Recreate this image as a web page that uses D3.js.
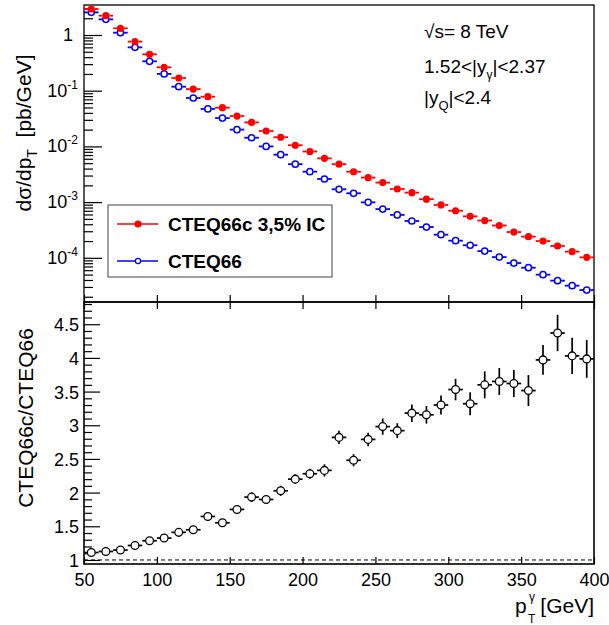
<!DOCTYPE html>
<html>
<head>
<meta charset="utf-8">
<script src="https://cdn.jsdelivr.net/npm/d3@7"></script>
<style>
body { margin: 0; background: #fff; }
text { font-family: "Liberation Sans", Arial, Helvetica, sans-serif; fill: #000; }
</style>
</head>
<body>
<svg id="chart" width="609" height="625"></svg>
<script>
// bin centres in pT (GeV), bins are 10 GeV wide
var ptBins   = [55, 65, 75, 85, 95, 105, 115, 125, 135, 145, 155, 165, 175, 185, 195, 205, 215, 225,
                235, 245, 255, 265, 275, 285, 295, 305, 315, 325, 335, 345, 355, 365, 375, 385, 395];
// CTEQ66c 3,5% IC  (pb/GeV)
var xsecIC   = [2.93, 2.22, 1.32, 0.76, 0.45, 0.263, 0.169, 0.107, 0.078, 0.0495, 0.0351, 0.027,
                0.0189, 0.0146, 0.0105, 0.0081, 0.0061, 0.0048, 0.00351, 0.00275, 0.00224, 0.00172,
                0.00148, 0.00113, 0.00089, 0.00070, 0.000556, 0.000467, 0.00038, 0.00029, 0.00024,
                0.00020, 0.000163, 0.000129, 0.000102];
// CTEQ66  (pb/GeV)
var xsecStd  = [2.55, 1.91, 1.10, 0.60, 0.337, 0.20, 0.118, 0.074, 0.047, 0.0323, 0.020, 0.0143,
                0.0100, 0.0071, 0.0048, 0.00352, 0.0026, 0.0017, 0.00144, 0.00099, 0.00075, 0.00059,
                0.000458, 0.000357, 0.00026, 0.000203, 0.000168, 0.000132, 0.000103, 0.0000806,
                0.0000664, 0.0000498, 0.0000389, 0.0000316, 0.0000264];
// ratio CTEQ66c/CTEQ66 and its error
var ratio    = [1.11, 1.126, 1.147, 1.215, 1.285, 1.325, 1.41, 1.448, 1.646, 1.552, 1.75, 1.933,
                1.898, 2.027, 2.20, 2.28, 2.33, 2.82, 2.48, 2.79, 2.98, 2.92, 3.18, 3.155, 3.30,
                3.53, 3.32, 3.60, 3.65, 3.62, 3.515, 3.97, 4.37, 4.03, 3.985];
var ratioErr = [0.01, 0.01, 0.015, 0.015, 0.02, 0.02, 0.025, 0.03, 0.035, 0.04, 0.06, 0.07,
                0.06, 0.075, 0.07, 0.075, 0.09, 0.10, 0.09, 0.10, 0.12, 0.11, 0.13, 0.13, 0.14,
                0.16, 0.17, 0.20, 0.20, 0.20, 0.23, 0.22, 0.27, 0.27, 0.28];
var binHalf  = 5;

var xTicks     = [50, 100, 150, 200, 250, 300, 350, 400];
var logTicks   = [1e-4, 1e-3, 1e-2, 1e-1, 1];
var ratioTicks = [1, 1.5, 2, 2.5, 3, 3.5, 4, 4.5];

var left = 84, right = 594, top1 = 5, bot1 = 302, bot2 = 564;

var svg = d3.select("#chart");

var x = d3.scaleLinear().domain([50, 400]).range([left, right]);
var yTop = d3.scaleLog().domain([1.61e-5, 3.456]).range([bot1, top1]);
var yBot = d3.scaleLinear().domain([0.94, 4.83]).range([bot2, bot1]);

// minor log ticks 2..9 of each decade inside range
var logMinor = [];
[1e-5, 1e-4, 1e-3, 1e-2, 1e-1, 1].forEach(function (d) {
	for (var k = 2; k <= 9; k++) {
		var v = d * k;
		if (v > yTop.domain()[0] && v < yTop.domain()[1]) logMinor.push(v);
	}
});
var ratioMinor = [];
for (var i = 10; i <= 48; i++) {
	if (i % 5 !== 0) ratioMinor.push(i / 10);
}

function stripDomain(g) { g.select(".domain").remove(); g.selectAll(".tick line").attr("stroke", "#000").attr("stroke-width", 1.2); }

// ---- top panel axes (ticks pointing inward like ROOT)
svg.append("g").attr("transform", "translate(" + left + ",0)")
	.call(d3.axisLeft(yTop).tickValues(logMinor).tickSize(-9).tickFormat(""))
	.call(stripDomain);
svg.append("g").attr("transform", "translate(" + left + ",0)")
	.call(d3.axisLeft(yTop).tickValues(logTicks).tickSize(-18).tickFormat(""))
	.call(stripDomain);
svg.append("g").attr("transform", "translate(0," + bot1 + ")")
	.call(d3.axisBottom(x).tickValues(xTicks).tickSize(-7).tickFormat(""))
	.call(stripDomain);

// log labels with superscripts
var logLab = svg.append("g").attr("font-size", 18);
logTicks.forEach(function (t) {
	var e = Math.round(Math.log10(t));
	var txt = logLab.append("text")
		.attr("x", e === 0 ? 73 : 78)
		.attr("y", yTop(t) + 6)
		.attr("text-anchor", "end");
	if (e === 0) {
		txt.text("1");
	} else {
		txt.append("tspan").text("10");
		txt.append("tspan").attr("font-size", 12).attr("dy", -8).text("-" + (-e));
	}
});

// ---- bottom panel axes
svg.append("g").attr("transform", "translate(" + left + ",0)")
	.call(d3.axisLeft(yBot).tickValues(ratioMinor).tickSize(-8).tickFormat(""))
	.call(stripDomain);
svg.append("g").attr("transform", "translate(" + left + ",0)")
	.call(d3.axisLeft(yBot).tickValues(ratioTicks).tickSize(-16).tickPadding(5).tickFormat(d3.format("")))
	.call(stripDomain)
	.call(function (g) { g.selectAll("text").attr("font-size", 18).attr("font-family", null).attr("dy", "0.36em"); });
svg.append("g").attr("transform", "translate(0," + bot1 + ")")
	.call(d3.axisTop(x).tickValues(xTicks).tickSize(-7).tickFormat(""))
	.call(stripDomain);
svg.append("g").attr("transform", "translate(0," + bot2 + ")")
	.call(d3.axisBottom(x).tickValues(xTicks).tickSize(-7).tickPadding(9).tickFormat(d3.format("")))
	.call(stripDomain)
	.call(function (g) { g.selectAll("text").attr("font-size", 18).attr("font-family", null).attr("dy", "0.71em"); });

// frames
svg.append("rect").attr("x", left).attr("y", top1).attr("width", right - left).attr("height", bot1 - top1)
	.attr("fill", "none").attr("stroke", "#000").attr("stroke-width", 1.3);
svg.append("rect").attr("x", left).attr("y", bot1).attr("width", right - left).attr("height", bot2 - bot1)
	.attr("fill", "none").attr("stroke", "#000").attr("stroke-width", 1.6);

// dashed line at ratio 1
svg.append("line").attr("x1", left).attr("x2", right).attr("y1", yBot(1)).attr("y2", yBot(1))
	.attr("stroke", "#000").attr("stroke-width", 1).attr("stroke-dasharray", "4,3");

// ---- top panel data
var r = 3.6;
function drawSeries(vals, color, filled) {
	var g = svg.append("g");
	var pts = g.selectAll("g").data(ptBins).enter().append("g");
	pts.append("line")
		.attr("x1", function (d) { return x(d - binHalf); })
		.attr("x2", function (d) { return x(d) - r; })
		.attr("y1", function (d, i) { return yTop(vals[i]); })
		.attr("y2", function (d, i) { return yTop(vals[i]); })
		.attr("stroke", color).attr("stroke-width", 1.8);
	pts.append("line")
		.attr("x1", function (d) { return x(d) + r; })
		.attr("x2", function (d) { return x(d + binHalf); })
		.attr("y1", function (d, i) { return yTop(vals[i]); })
		.attr("y2", function (d, i) { return yTop(vals[i]); })
		.attr("stroke", color).attr("stroke-width", 1.8);
	pts.append("circle")
		.attr("cx", function (d) { return x(d); })
		.attr("cy", function (d, i) { return yTop(vals[i]); })
		.attr("r", filled ? r : r - 0.5)
		.attr("fill", filled ? color : "#fff")
		.attr("stroke", color).attr("stroke-width", filled ? 0 : 1.5);
}
drawSeries(xsecStd, "#0000ff", false);
drawSeries(xsecIC, "#ff0000", true);

// ---- ratio data
var rr = 3.9;
var rg = svg.append("g");
var rp = rg.selectAll("g").data(ptBins).enter().append("g");
rp.each(function (d, i) {
	var g = d3.select(this);
	var cx = x(d), cy = yBot(ratio[i]);
	var up = yBot(ratio[i] + ratioErr[i]), dn = yBot(ratio[i] - ratioErr[i]);
	g.append("line").attr("x1", x(d - binHalf)).attr("x2", cx - rr).attr("y1", cy).attr("y2", cy);
	g.append("line").attr("x1", cx + rr).attr("x2", x(d + binHalf)).attr("y1", cy).attr("y2", cy);
	if (cy - up > rr) g.append("line").attr("x1", cx).attr("x2", cx).attr("y1", up).attr("y2", cy - rr);
	if (dn - cy > rr) g.append("line").attr("x1", cx).attr("x2", cx).attr("y1", cy + rr).attr("y2", dn);
	g.selectAll("line").attr("stroke", "#000").attr("stroke-width", 1.7);
	g.append("circle").attr("cx", cx).attr("cy", cy).attr("r", rr)
		.attr("fill", "#fff").attr("stroke", "#000").attr("stroke-width", 1.3);
});

// ---- legend
var leg = svg.append("g");
leg.append("rect").attr("x", 108).attr("y", 205).attr("width", 224).attr("height", 72)
	.attr("fill", "#fff").attr("stroke", "#444").attr("stroke-width", 1);
var legItems = [
	{ label: "CTEQ66c 3,5% IC", color: "#ff0000", filled: true },
	{ label: "CTEQ66", color: "#0000ff", filled: false }
];
legItems.forEach(function (it, i) {
	var ly = 224 + i * 37;
	leg.append("line").attr("x1", 117).attr("x2", 158).attr("y1", ly).attr("y2", ly)
		.attr("stroke", it.color).attr("stroke-width", 1.5);
	leg.append("circle").attr("cx", 138).attr("cy", ly).attr("r", it.filled ? 3 : 2.6)
		.attr("fill", it.filled ? it.color : "#fff").attr("stroke", it.color).attr("stroke-width", 1.2);
	leg.append("text").attr("x", 168).attr("y", ly + 7).attr("font-size", 19).attr("font-weight", "bold")
		.text(it.label);
});

// ---- annotation text
var ann = svg.append("g").attr("font-size", 19);
ann.append("text").attr("x", 424).attr("y", 38).text("\u221As= 8 TeV");
var a2 = ann.append("text").attr("x", 424).attr("y", 73);
a2.append("tspan").text("1.52<|y");
a2.append("tspan").attr("font-size", 12).attr("dy", 6).text("\u03B3");
a2.append("tspan").attr("dy", -6).text("|<2.37");
var a3 = ann.append("text").attr("x", 424).attr("y", 104);
a3.append("tspan").text("|y");
a3.append("tspan").attr("font-size", 13).attr("dy", 6).text("Q");
a3.append("tspan").attr("dy", -6).text("|<2.4");

// ---- axis titles
var t1 = svg.append("text").attr("transform", "translate(31,133) rotate(-90)")
	.attr("text-anchor", "middle").attr("font-size", 21);
t1.append("tspan").text("d\u03C3/dp");
t1.append("tspan").attr("font-size", 14).attr("dy", 6).text("T");
t1.append("tspan").attr("dy", -6).text("\u00A0 [pb/GeV]");

svg.append("text").attr("transform", "translate(33,418) rotate(-90)")
	.attr("text-anchor", "middle").attr("font-size", 21).text("CTEQ66c/CTEQ66");

var xt = svg.append("g").attr("font-size", 21);
xt.append("text").attr("x", 594).attr("y", 613).attr("text-anchor", "end").text("[GeV]");
xt.append("text").attr("x", 515).attr("y", 613).text("p");
xt.append("text").attr("x", 528).attr("y", 623).attr("font-size", 12).text("T");
xt.append("text").attr("x", 529).attr("y", 601).attr("font-size", 12).text("\u03B3");
</script>
</body>
</html>
